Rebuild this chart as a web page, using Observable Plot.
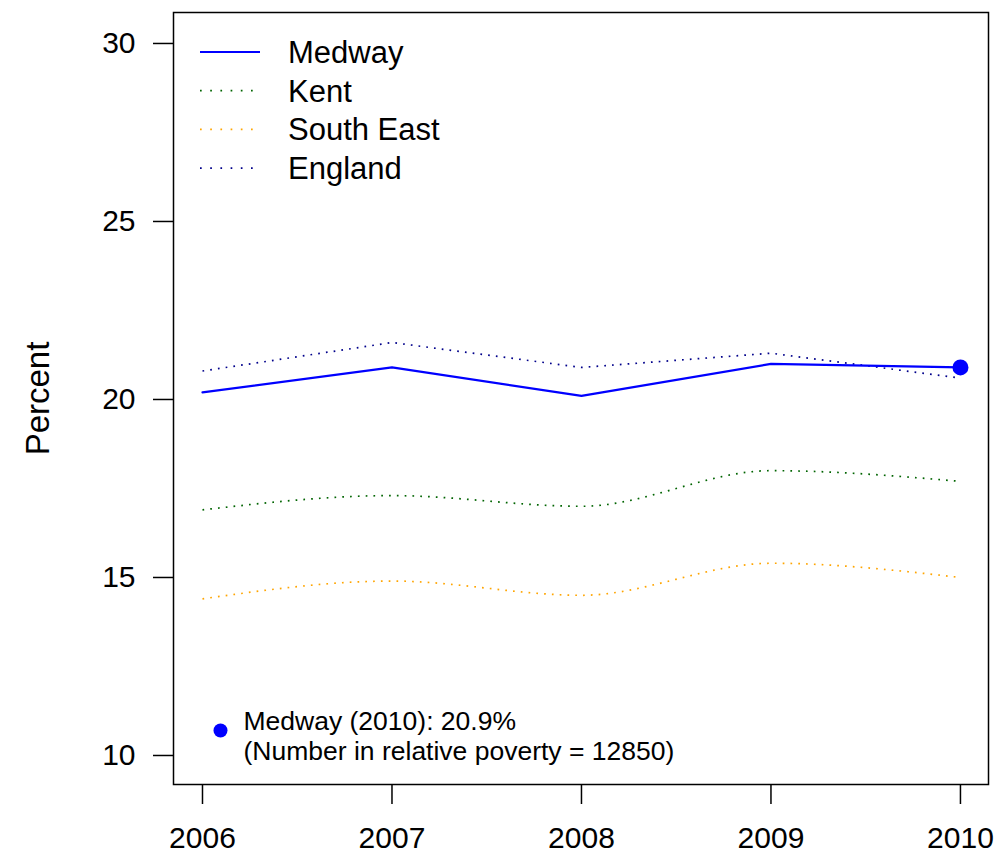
<!DOCTYPE html>
<html>
<head>
<meta charset="utf-8">
<script src="https://cdn.jsdelivr.net/npm/d3@7"></script>
<script src="https://cdn.jsdelivr.net/npm/@observablehq/plot@0.6"></script>
<style>
  body { margin: 0; background: #fff; }
  #chart { position: relative; width: 996px; height: 861px; }
</style>
</head>
<body>
<div id="chart"></div>
<script>
const years = [2006, 2007, 2008, 2009, 2010];
const medway = [20.2, 20.9, 20.1, 21.0, 20.9];
const kent = [16.9, 17.3, 17.0, 18.0, 17.7];
const southEast = [14.4, 14.9, 14.5, 15.4, 15.0];
const england = [20.8, 21.6, 20.9, 21.3, 20.6];
const seriesNames = ["Medway", "Kent", "South East", "England"];
const seriesColors = ["#0000FF", "#006400", "#FFA500", "#00008B"];
const yTicks = [10, 15, 20, 25, 30];
const annotation = ["Medway (2010): 20.9%", "(Number in relative poverty = 12850)"];

const font = "Liberation Sans, Arial, Helvetica, sans-serif";
const toRows = (vals, name) => years.map((yr, i) => ({year: yr, value: vals[i], series: name}));
const dataMedway = toRows(medway, "Medway");
const dataKent = toRows(kent, "Kent");
const dataSE = toRows(southEast, "South East");
const dataEng = toRows(england, "England");
const dotStyle = {strokeWidth: 1.7, strokeDasharray: "1.7,6.1", strokeLinecap: "butt"};

const plot = Plot.plot({
  width: 996,
  height: 861,
  marginLeft: 173,
  marginRight: 8,
  marginTop: 12,
  marginBottom: 77,
  style: {fontFamily: font, background: "#fff"},
  x: {domain: [2005.847, 2010.148]},
  y: {domain: [9.185, 30.87]},
  marks: [
    Plot.frame({stroke: "#000", strokeWidth: 1.5}),
    Plot.axisX({ticks: years, tickFormat: d => String(d), tickSize: 20, tickPadding: 22, fontSize: 30, stroke: "#000", strokeWidth: 1.5, label: null, color: "#000"}),
    Plot.axisY({ticks: yTicks, tickSize: 20, tickPadding: 18, fontSize: 30, stroke: "#000", strokeWidth: 1.5, label: null, color: "#000"}),
    Plot.text(["Percent"], {frameAnchor: "left", textAnchor: "middle", dx: -135, rotate: -90, fontSize: 33, fill: "#000"}),
    Plot.line(dataEng, {x: "year", y: "value", stroke: seriesColors[3], ...dotStyle}),
    Plot.line(dataKent, {x: "year", y: "value", stroke: seriesColors[1], curve: "monotone-x", ...dotStyle}),
    Plot.line(dataSE, {x: "year", y: "value", stroke: seriesColors[2], curve: "monotone-x", ...dotStyle}),
    Plot.line(dataMedway, {x: "year", y: "value", stroke: seriesColors[0], strokeWidth: 2.2}),
    Plot.dot(dataMedway.slice(-1), {x: "year", y: "value", r: 8, fill: seriesColors[0], stroke: "none"}),
    Plot.dot([annotation[0]], {frameAnchor: "bottom-left", dx: 47, dy: -54, r: 7, fill: seriesColors[0], stroke: "none"}),
    Plot.text([annotation.join("\n")], {frameAnchor: "bottom-left", dx: 70, dy: -25, fontSize: 26.5, textAnchor: "start", lineAnchor: "bottom", lineHeight: 1.12, fill: "#000"})
  ]
});

// Legend drawn inside the plot frame
const svg = d3.select(plot);
const lg = svg.append("g").attr("transform", "translate(200,52)")
  .attr("font-family", font).attr("text-anchor", "start");
seriesNames.forEach((name, i) => {
  const g = lg.append("g").attr("transform", `translate(0,${i * 38.7})`);
  const ln = g.append("line").attr("x1", 0).attr("x2", 60).attr("y1", 0).attr("y2", 0)
    .attr("stroke", seriesColors[i]);
  if (i === 0) ln.attr("stroke-width", 2.2);
  else ln.attr("stroke-width", 1.7).attr("stroke-dasharray", "1.7,8.5");
  g.append("text").attr("x", 88).attr("y", 0).attr("dy", "0.35em").attr("font-size", 31)
    .attr("text-anchor", "start").attr("fill", "#000").text(name);
});

document.getElementById("chart").appendChild(plot);
</script>
</body>
</html>
